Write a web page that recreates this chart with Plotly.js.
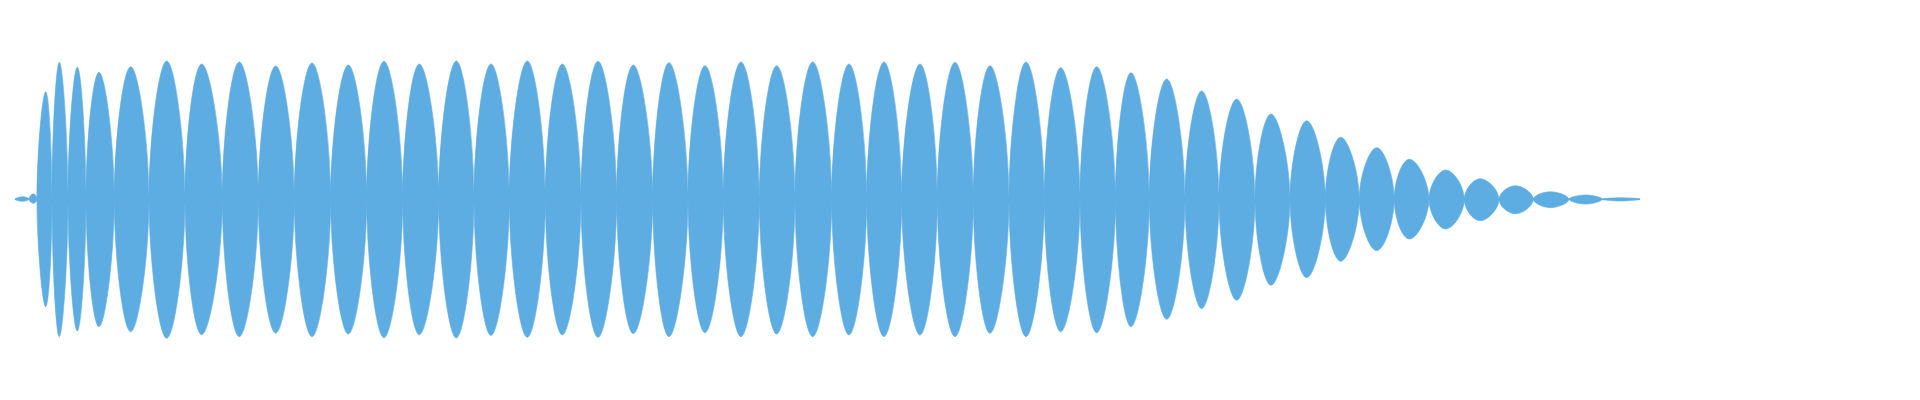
<!DOCTYPE html>
<html>
<head>
<meta charset="utf-8">
<script src="https://cdn.plot.ly/plotly-3.0.1.min.js"></script>
<style>
  html, body { margin: 0; padding: 0; background: #ffffff; }
  #chart { width: 1920px; height: 400px; }
</style>
</head>
<body>
<div id="chart"></div>
<script>
// Envelope of the waveform.
// Time axis (ms) : zero crossings of the envelope (lobe boundaries)
const nodeT = [15, 29, 37, 52, 68, 86, 114.3, 149, 185, 222.3, 258.3, 294.3, 330.7, 366.7,
  402.7, 438.7, 474, 509.3, 545.3, 581, 616.7, 652.7, 688, 723.3, 759.3, 795, 831.7, 866.7,
  901.7, 937.3, 973.3, 1009, 1044.3, 1080, 1115.5, 1149.3, 1185, 1219, 1255, 1290, 1325.3,
  1359.3, 1394.2, 1429, 1464.3, 1499, 1533.3, 1569, 1602.3, 1640];

// Time of each lobe's peak
const peakT = [23, 33.5, 45.7, 59.3, 77.3, 99, 130.7, 166.7, 201.7, 239.3, 275.7, 312, 348.3,
  384, 419.3, 456.3, 491, 527.3, 562.3, 598, 633.3, 669, 705, 741, 776.7, 812.7, 849, 884,
  920, 955, 990, 1026, 1060.7, 1096.7, 1131, 1166.7, 1201.7, 1236.7, 1271, 1306.7, 1340.7,
  1376.7, 1409.3, 1445.7, 1480, 1515, 1550, 1585, 1620];

// Positive peak amplitude of each lobe
const peakUpper = [0.018, 0.039, 0.769, 0.979, 0.943, 0.907, 0.947, 0.988, 0.966, 0.981,
  0.952, 0.974, 0.959, 0.986, 0.966, 0.988, 0.966, 0.988, 0.966, 0.986, 0.959, 0.976, 0.954,
  0.981, 0.954, 0.981, 0.966, 0.981, 0.966, 0.979, 0.954, 0.981, 0.940, 0.947, 0.904, 0.859,
  0.774, 0.716, 0.609, 0.561, 0.443, 0.369, 0.286, 0.209, 0.147, 0.097, 0.054, 0.031, 0.011];

// Negative peak amplitude of each lobe (magnitude)
const peakLower = [0.014, 0.029, 0.767, 0.981, 0.941, 0.910, 0.946, 0.993, 0.967, 0.981,
  0.957, 0.981, 0.962, 0.989, 0.967, 0.991, 0.973, 0.986, 0.969, 0.986, 0.960, 0.981, 0.953,
  0.981, 0.962, 0.981, 0.969, 0.981, 0.969, 0.981, 0.957, 0.981, 0.946, 0.953, 0.910, 0.857,
  0.781, 0.721, 0.614, 0.560, 0.443, 0.367, 0.284, 0.212, 0.153, 0.103, 0.060, 0.034, 0.012];

const waveColor = '#5DADE2';

// Build one closed lobe per envelope segment
const xs = [], ys = [];
for (let i = 0; i < peakT.length; i++) {
  xs.push(nodeT[i], peakT[i], nodeT[i + 1], peakT[i], nodeT[i], null);
  ys.push(0, peakUpper[i], 0, -peakLower[i], 0, null);
}

const lobes = {
  type: 'scatter',
  mode: 'lines',
  x: xs,
  y: ys,
  fill: 'toself',
  fillcolor: waveColor,
  line: { color: waveColor, width: 0.6, shape: 'spline', smoothing: 1.3 },
  connectgaps: false,
  hoverinfo: 'skip'
};

const centre = {
  type: 'scatter',
  mode: 'lines',
  x: [nodeT[0], nodeT[nodeT.length - 1]],
  y: [0, 0],
  line: { color: waveColor, width: 1.6 },
  hoverinfo: 'skip'
};

const layout = {
  width: 1920,
  height: 400,
  margin: { l: 0, r: 0, t: 0, b: 0, pad: 0 },
  paper_bgcolor: '#ffffff',
  plot_bgcolor: '#ffffff',
  showlegend: false,
  xaxis: { visible: false, range: [0, 1920], fixedrange: true },
  yaxis: { visible: false, range: [-1.4336, 1.4236], fixedrange: true }
};

Plotly.newPlot('chart', [lobes, centre], layout, { displayModeBar: false, staticPlot: true });
</script>
</body>
</html>
